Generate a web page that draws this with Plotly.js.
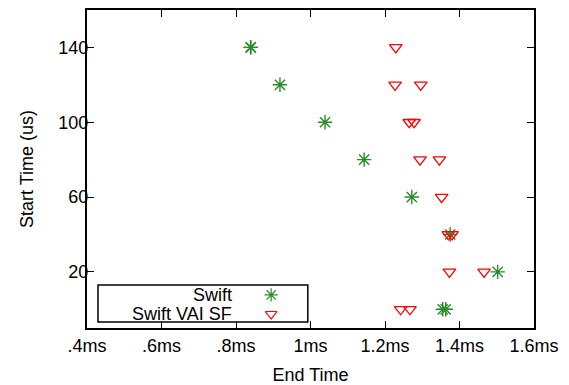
<!DOCTYPE html>
<html><head><meta charset="utf-8">
<script src="https://cdn.plot.ly/plotly-3.0.1.min.js"></script>
<style>html,body{margin:0;padding:0;background:#fff}#c{width:569px;height:385px}</style>
</head><body><div id="c"></div>
<script>
// End time (ms) vs start time (us)
const swiftEnd = [0.839, 0.840, 0.918, 1.039, 1.144, 1.272, 1.375, 1.5025, 1.355, 1.363];
const swiftStart = [140, 140, 120, 100, 80, 60, 40, 20, 0, 0];
const vaiEnd = [1.229, 1.227, 1.296, 1.265, 1.278, 1.294, 1.346, 1.352, 1.370, 1.380, 1.373, 1.466, 1.242, 1.267];
const vaiStart = [140, 120, 120, 100, 100, 80, 80, 60, 40, 40, 20, 20, 0, 0];
const xTickVals = [0.4, 0.6, 0.8, 1.0, 1.2, 1.4, 1.6];
const xTickText = ['.4ms', '.6ms', '.8ms', '1ms', '1.2ms', '1.4ms', '1.6ms'];
const yTickVals = [20, 60, 100, 140];
const seriesNames = ['Swift', 'Swift VAI SF'];

const green = '#2a8c2a', red = '#ff0000';
const font = {family: 'Liberation Sans, Arial, sans-serif', size: 18, color: '#000'};

const traces = [
  {x: swiftEnd, y: swiftStart, type: 'scatter', mode: 'markers', name: seriesNames[0], showlegend: false,
   marker: {symbol: 'asterisk-open', size: 12, color: green, line: {color: green, width: 1.4}}},
  {x: vaiEnd, y: vaiStart, type: 'scatter', mode: 'markers', name: seriesNames[1], showlegend: false,
   marker: {symbol: 'triangle-down-open', size: 11, color: red, line: {color: red, width: 1.3}}},
  // legend keys on an overlay axis
  {x: [0.412], y: [0.104], xaxis: 'x2', yaxis: 'y2', type: 'scatter', mode: 'markers', showlegend: false, hoverinfo: 'skip',
   marker: {symbol: 'asterisk-open', size: 11, color: green, line: {color: green, width: 1.2}}},
  {x: [0.412], y: [0.044], xaxis: 'x2', yaxis: 'y2', type: 'scatter', mode: 'markers', showlegend: false, hoverinfo: 'skip',
   marker: {symbol: 'triangle-down-open', size: 10, color: red, line: {color: red, width: 1.2}}}
];

const layout = {
  width: 569, height: 385,
  margin: {l: 87, r: 35, t: 10, b: 57},
  paper_bgcolor: '#fff', plot_bgcolor: '#fff',
  font: font,
  showlegend: false,
  xaxis: {range: [0.4, 1.6], tickvals: xTickVals, ticktext: xTickText, ticks: 'inside', ticklen: 7, tickwidth: 1,
          tickcolor: '#000', showgrid: false, zeroline: false, showline: true, linecolor: '#000', linewidth: 2,
          mirror: 'ticks', tickfont: font, title: {text: 'End Time', font: font, standoff: 14}},
  yaxis: {range: [-10, 160], tickvals: yTickVals, ticks: 'inside', ticklen: 7, tickwidth: 1, ticklabelstandoff: -7,
          tickcolor: '#000', showgrid: false, zeroline: false, showline: true, linecolor: '#000', linewidth: 2,
          mirror: 'ticks', tickfont: font, title: {text: 'Start Time (us)', font: font, standoff: 20}},
  xaxis2: {overlaying: 'x', range: [0, 1], visible: false, fixedrange: true},
  yaxis2: {overlaying: 'y', range: [0, 1], visible: false, fixedrange: true},
  shapes: [
    {type: 'rect', xref: 'paper', yref: 'paper', x0: 0.0246, x1: 0.494, y0: 0.019, y1: 0.135,
     line: {color: '#000', width: 1.5}, fillcolor: '#fff', layer: 'below'}
  ],
  annotations: [
    {xref: 'paper', yref: 'paper', x: 0.329, y: 0.104, xanchor: 'right', yanchor: 'middle', text: seriesNames[0], showarrow: false, font: font},
    {xref: 'paper', yref: 'paper', x: 0.329, y: 0.044, xanchor: 'right', yanchor: 'middle', text: seriesNames[1], showarrow: false, font: font}
  ]
};

Plotly.newPlot('c', traces, layout, {staticPlot: true, displayModeBar: false});
</script></body></html>
